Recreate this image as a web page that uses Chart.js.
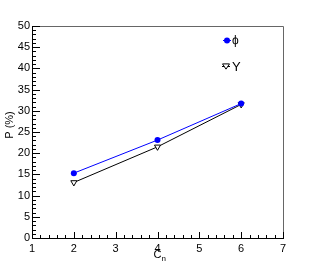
<!DOCTYPE html>
<html>
<head>
<meta charset="utf-8">
<script src="https://cdn.jsdelivr.net/npm/chart.js@4/dist/chart.umd.min.js"></script>
<style>
  html, body { margin: 0; padding: 0; background: #fff; }
</style>
</head>
<body>
<canvas id="chart" width="315" height="266"></canvas>
<script>
// values
const xValues = [2, 4, 6];
const phiValues = [15.3, 23.1, 31.7];
const upsValues = [13.1, 21.5, 31.5];
const seriesNames = ['\u03D5', '\u03A5'];
const xTitle = ['C', 'n'];
const yTitle = 'P (%)';

const FONT = "'Liberation Sans', Arial, sans-serif";

function toPoints(ys) {
  return xValues.map((x, i) => ({ x: x, y: ys[i] }));
}

// ROOT style: ticks inside the frame, grey frame on top/right, legend, axis titles
const rootFrame = {
  id: 'rootFrame',
  afterDraw(chart) {
    const ctx = chart.ctx;
    const a = chart.chartArea;
    const xs = chart.scales.x, ys = chart.scales.y;
    ctx.save();

    // top and right of the frame
    ctx.strokeStyle = '#666';
    ctx.lineWidth = 1;
    ctx.beginPath();
    ctx.moveTo(Math.round(a.left), Math.round(a.top) + 0.5);
    ctx.lineTo(Math.round(a.right) + 0.5, Math.round(a.top) + 0.5);
    ctx.lineTo(Math.round(a.right) + 0.5, Math.round(a.bottom));
    ctx.stroke();

    // inner ticks
    ctx.strokeStyle = '#000';
    ctx.beginPath();
    for (let v = 0; v <= 50; v++) {
      const py = Math.round(ys.getPixelForValue(v)) + 0.5;
      const len = v % 5 === 0 ? 8 : 4;
      ctx.moveTo(a.left, py);
      ctx.lineTo(a.left + len, py);
    }
    for (let k = 0; k <= 30; k++) {
      const v = 1 + k * 0.2;
      const px = Math.round(xs.getPixelForValue(v)) + 0.5;
      const len = k % 5 === 0 ? 6 : 3;
      ctx.moveTo(px, a.bottom);
      ctx.lineTo(px, a.bottom - len);
    }
    ctx.stroke();

    // x title with subscript
    ctx.fillStyle = '#000';
    ctx.textBaseline = 'alphabetic';
    ctx.textAlign = 'left';
    ctx.font = '11px ' + FONT;
    const cx = (a.left + a.right) / 2 - 4;
    ctx.fillText(xTitle[0], cx, 258);
    const cw = ctx.measureText(xTitle[0]).width;
    ctx.font = '8px ' + FONT;
    ctx.fillText(xTitle[1], cx + cw, 261);

    // y title, rotated
    ctx.save();
    ctx.translate(10, 125);
    ctx.rotate(-Math.PI / 2);
    ctx.font = '11px ' + FONT;
    ctx.textAlign = 'center';
    ctx.textBaseline = 'middle';
    ctx.fillText(yTitle, 0, 0);
    ctx.restore();

    // legend
    const legendRows = [
      { ds: chart.data.datasets[0], y: 40, x: 227 },
      { ds: chart.data.datasets[1], y: 66, x: 226 }
    ];
    legendRows.forEach((row, i) => {
      const ds = row.ds;
      const mx = row.x;
      ctx.strokeStyle = ds.borderColor;
      ctx.lineWidth = 1;
      ctx.beginPath();
      ctx.moveTo(mx - 4, row.y + 0.5);
      ctx.lineTo(mx + 4, row.y + 0.5);
      ctx.stroke();
      ctx.beginPath();
      if (i === 0) {
        ctx.fillStyle = ds.pointBackgroundColor;
        ctx.arc(mx, row.y + 0.5, ds.pointRadius, 0, Math.PI * 2);
        ctx.fill();
      } else {
        const r = ds.pointRadius;
        ctx.fillStyle = '#fff';
        ctx.strokeStyle = ds.pointBorderColor;
        ctx.moveTo(mx - r, row.y - r * 0.6);
        ctx.lineTo(mx + r, row.y - r * 0.6);
        ctx.lineTo(mx, row.y + r * 0.9);
        ctx.closePath();
        ctx.fill();
        ctx.stroke();
      }
      ctx.fillStyle = '#000';
      ctx.font = (i === 0 ? '12px ' : '13px ') + FONT;
      ctx.textAlign = 'left';
      ctx.textBaseline = 'middle';
      ctx.fillText(ds.label, 232, row.y + 1);
    });

    ctx.restore();
  }
};

new Chart(document.getElementById('chart'), {
  type: 'scatter',
  data: {
    datasets: [
      {
        label: seriesNames[0],
        data: toPoints(phiValues),
        showLine: true,
        borderColor: 'rgb(0,0,255)',
        borderWidth: 1,
        pointStyle: 'circle',
        pointRadius: 3,
        pointBackgroundColor: 'rgb(0,0,255)',
        pointBorderColor: 'rgb(0,0,255)',
        pointBorderWidth: 0
      },
      {
        label: seriesNames[1],
        data: toPoints(upsValues),
        showLine: true,
        borderColor: '#000',
        borderWidth: 1,
        pointStyle: 'triangle',
        rotation: 180,
        pointRadius: 3.5,
        pointBackgroundColor: '#fff',
        pointBorderColor: '#000',
        pointBorderWidth: 1
      }
    ]
  },
  options: {
    responsive: false,
    animation: false,
    devicePixelRatio: 1,
    layout: { padding: { left: 0, top: 26, right: 32, bottom: 0 } },
    plugins: {
      legend: { display: false },
      tooltip: { enabled: false }
    },
    scales: {
      x: {
        type: 'linear',
        min: 1,
        max: 7,
        grid: { display: false, drawTicks: false },
        border: { color: '#000', width: 1 },
        ticks: {
          stepSize: 1,
          padding: 4,
          color: '#000',
          font: { family: FONT, size: 11 }
        },
        afterFit(s) { s.height = 28; }
      },
      y: {
        min: 0,
        max: 50,
        grid: { display: false, drawTicks: false },
        border: { color: '#000', width: 1 },
        ticks: {
          stepSize: 5,
          padding: 2,
          color: '#000',
          font: { family: FONT, size: 11 }
        },
        afterFit(s) { s.width = 32; }
      }
    }
  },
  plugins: [rootFrame]
});
</script>
</body>
</html>
